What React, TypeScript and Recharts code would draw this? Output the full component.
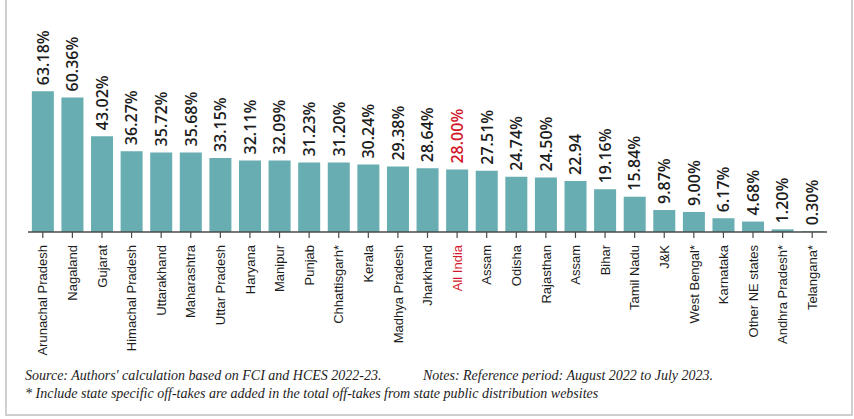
import { BarChart, Bar, XAxis, YAxis, LabelList, Cell } from "recharts";

const states = [
  "Arunachal Pradesh", "Nagaland", "Gujarat", "Himachal Pradesh", "Uttarakhand",
  "Maharashtra", "Uttar Pradesh", "Haryana", "Manipur", "Punjab",
  "Chhattisgarh*", "Kerala", "Madhya Pradesh", "Jharkhand", "All India",
  "Assam", "Odisha", "Rajasthan", "Assam", "Bihar",
  "Tamil Nadu", "J&K", "West Bengal*", "Karnataka", "Other NE states",
  "Andhra Pradesh*", "Telangana*",
];

const offtake = [
  63.18, 60.36, 43.02, 36.27, 35.72,
  35.68, 33.15, 32.11, 32.09, 31.23,
  31.2, 30.24, 29.38, 28.64, 28.0,
  27.51, 24.74, 24.5, 22.94, 19.16,
  15.84, 9.87, 9.0, 6.17, 4.68,
  1.2, 0.3,
];

const valueLabels = [
  "63.18%", "60.36%", "43.02%", "36.27%", "35.72%",
  "35.68%", "33.15%", "32.11%", "32.09%", "31.23%",
  "31.20%", "30.24%", "29.38%", "28.64%", "28.00%",
  "27.51%", "24.74%", "24.50%", "22.94", "19.16%",
  "15.84%", "9.87%", "9.00%", "6.17%", "4.68%",
  "1.20%", "0.30%",
];

const HIGHLIGHT = "All India";
const BAR_COLOR = "#67adb1";
const RED = "#d3182b";
const INK = "#1c1c1c";

const data = states.map((name, i) => ({ idx: i, name, value: offtake[i], label: valueLabels[i] }));

function StateTick(props: any) {
  const { x, y, payload } = props;
  const name = states[payload.index];
  return (
    <text
      transform={`translate(${x},${y + 5}) rotate(-90)`}
      textAnchor="end"
      dy="0.36em"
      fontSize={13}
      fontFamily="'Liberation Sans', Arial, sans-serif"
      fill={name === HIGHLIGHT ? RED : INK}
    >
      {name}
    </text>
  );
}

function ValueLabel(props: any) {
  const { x, y, width, index } = props;
  const cx = x + width / 2;
  const top = y - 6;
  return (
    <text
      transform={`translate(${cx},${top}) rotate(-90)`}
      textAnchor="start"
      dy="0.36em"
      fontSize={16}
      fontWeight={600}
      fontFamily="'Open Sans', sans-serif"
      fill={states[index] === HIGHLIGHT ? RED : INK}
    >
      {valueLabels[index]}
    </text>
  );
}

export default function App() {
  return (
    <div style={{ position: "absolute", left: 0, top: 0, width: 854, height: 419, background: "#fff" }}>
      <div
        style={{
          position: "absolute",
          left: 5,
          top: -2,
          width: 848,
          height: 418,
          boxSizing: "border-box",
          border: "2px solid #cfcfcf",
        }}
      />
      <div style={{ position: "absolute", left: 0, top: 0 }}>
        <BarChart
          width={854}
          height={419}
          data={data}
          margin={{ top: 76, right: 27, left: 28, bottom: 0 }}
          barCategoryGap="13%"
        >
          <XAxis
            dataKey="idx"
            type="category"
            height={187}
            interval={0}
            tick={<StateTick />}
            tickSize={6}
            axisLine={{ stroke: "#4a4a4a", strokeWidth: 1.5 }}
            tickLine={{ stroke: "#4a4a4a", strokeWidth: 1.2 }}
          />
          <YAxis hide domain={[0, 70]} />
          <Bar dataKey="value" fill={BAR_COLOR} isAnimationActive={false}>
            {data.map((d, i) => (
              <Cell key={`c-${i}`} fill={BAR_COLOR} />
            ))}
            <LabelList dataKey="label" content={<ValueLabel />} />
          </Bar>
        </BarChart>
      </div>
      <div
        style={{
          position: "absolute",
          left: 25,
          top: 367,
          fontFamily: "'Liberation Serif', 'Times New Roman', serif",
          fontStyle: "italic",
          fontSize: 14,
          lineHeight: "18px",
          color: INK,
          whiteSpace: "nowrap",
        }}
      >
        <div>Source: Authors' calculation based on FCI and HCES 2022-23.</div>
        <div>* Include state specific off-takes are added in the total off-takes from state public distribution websites</div>
      </div>
      <div
        style={{
          position: "absolute",
          left: 423,
          top: 367,
          fontFamily: "'Liberation Serif', 'Times New Roman', serif",
          fontStyle: "italic",
          fontSize: 14,
          lineHeight: "18px",
          color: INK,
          whiteSpace: "nowrap",
        }}
      >
        Notes: Reference period: August 2022 to July 2023.
      </div>
    </div>
  );
}
